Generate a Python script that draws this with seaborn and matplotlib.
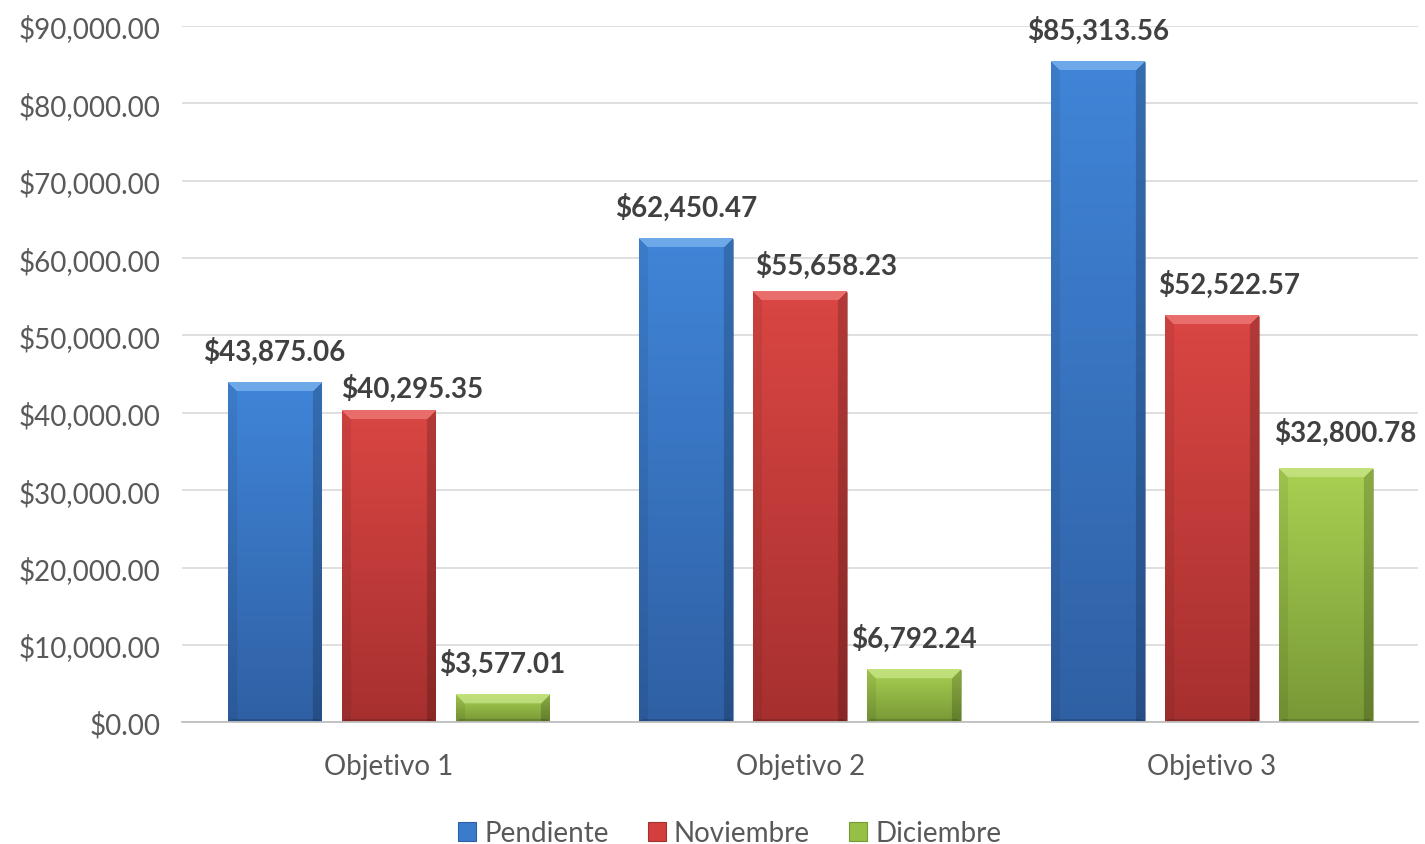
import numpy as np
import pandas as pd
import matplotlib
matplotlib.use('Agg')
import matplotlib.pyplot as plt
from matplotlib.ticker import FuncFormatter
from matplotlib.colors import to_rgb
from matplotlib.patches import Patch
import seaborn as sns

# data
objetivos = ['Objetivo 1', 'Objetivo 2', 'Objetivo 3']
series = ['Pendiente', 'Noviembre', 'Diciembre']
pendiente = [43875.06, 62450.47, 85313.56]
noviembre = [40295.35, 55658.23, 52522.57]
diciembre = [3577.01, 6792.24, 32800.78]

# base / top / bottom / bevel colours per series
base_col = ['#3B7BCB', '#D23F3C', '#96C043']
top_col = ['#4085D8', '#DA4643', '#A9D152']
bot_col = ['#2F60A4', '#A6302F', '#789836']
hi_col = ['#8CC0F4', '#F48A86', '#D2EC98']

# hand-moved data labels in the original (points, per series / objetivo)
nudge = [[(0, 0), (0, 0), (0, 0)],
         [(17, -7), (19, -4), (12, 0)],
         [(0, 0), (0, 0), (14, 3)]]

df = pd.DataFrame({
    'Objetivo': objetivos * 3,
    'Serie': [s for s in series for _ in objetivos],
    'Valor': pendiente + noviembre + diciembre,
})

sns.set_style('white')
plt.rcParams['font.family'] = ['Lato', 'DejaVu Sans']

fig = plt.figure(figsize=(14.25, 8.45), dpi=100)
ax = fig.add_axes([0.128, 0.144, 0.867, 0.824])

sns.barplot(data=df, x='Objetivo', y='Valor', hue='Serie', order=objetivos,
            hue_order=series, palette=base_col, width=0.83, gap=0.18,
            saturation=1, ax=ax, legend=False, zorder=3)

ax.set_xlim(-0.5, 2.5)
ax.set_ylim(0, 90000)
ax.set_yticks(np.arange(0, 90001, 10000))
ax.yaxis.set_major_formatter(FuncFormatter(lambda v, p: f'${v:,.2f}'))
ax.grid(axis='y', color='#D9D9D9', lw=1.2, zorder=0)
ax.set_axisbelow(True)
for s in ['top', 'right', 'left']:
    ax.spines[s].set_visible(False)
ax.spines['bottom'].set_color('#BFBFBF')
ax.spines['bottom'].set_linewidth(1.3)
ax.spines['bottom'].set_zorder(5)
ax.tick_params(axis='both', length=0, labelsize=20, colors='#595959')
ax.tick_params(axis='y', pad=16)
ax.tick_params(axis='x', pad=22)
ax.set_xlabel('')
ax.set_ylabel('')


def bar_image(wpx, hpx, i, bev=9):
    # vertical gradient with a bevelled rim
    H, W = max(int(hpx), 2), max(int(wpx), 2)
    t = np.linspace(0, 1, H)[:, None, None]
    top = np.array(to_rgb(top_col[i]))
    bot = np.array(to_rgb(bot_col[i]))
    img = np.repeat(top * (1 - t) + bot * t, W, axis=1)
    rr, cc = np.mgrid[0:H, 0:W]
    dt, db, dl, dr = rr, H - 1 - rr, cc, W - 1 - cc
    side = np.minimum(dl, dr)
    hi = np.array(to_rgb(hi_col[i]))
    # top trapezoid
    m = (dt < bev) & (dt <= side)
    img[m] = hi * 0.6 + img[m] * 0.4
    # left and right rims
    m = (dl < bev) & (dl < dt) & (dl <= dr)
    img[m] = img[m] * 0.93
    m = (dr < bev) & (dr < dt) & (dr < dl)
    img[m] = img[m] * 0.82
    # thin bottom rim
    m = (db < 3) & (db < side)
    img[m] = img[m] * 0.85
    return np.clip(img, 0, 1)


for i, cont in enumerate(ax.containers):
    for bar in cont:
        x0, w, h = bar.get_x(), bar.get_width(), bar.get_height()
        p0 = ax.transData.transform((x0, 0))
        p1 = ax.transData.transform((x0 + w, h))
        img = bar_image(p1[0] - p0[0], p1[1] - p0[1], i)
        ax.imshow(img, extent=(x0, x0 + w, 0, h), aspect='auto',
                  interpolation='bilinear', zorder=4)
        bar.set_edgecolor('#00000030')
        bar.set_linewidth(0.8)
    anns = ax.bar_label(cont, labels=[f'${v:,.2f}' for v in cont.datavalues],
                        padding=13, fontsize=20, fontweight='bold',
                        color='#404040', zorder=6)
    for j, a in enumerate(anns):
        dx, dy = nudge[i][j]
        a.xyann = (dx, 13 + dy)

ax.set_xlim(-0.5, 2.5)
ax.set_ylim(0, 90000)

handles = [Patch(facecolor=c, edgecolor=b, lw=0.8) for c, b in zip(base_col, bot_col)]
fig.legend(handles, series, loc='lower center', ncol=3, frameon=False,
           fontsize=20, handlelength=0.65, handleheight=0.65, handletextpad=0.3,
           columnspacing=1.4, labelcolor='#595959', bbox_to_anchor=(0.512, -0.032))

fig.savefig('out.png', dpi=100)
